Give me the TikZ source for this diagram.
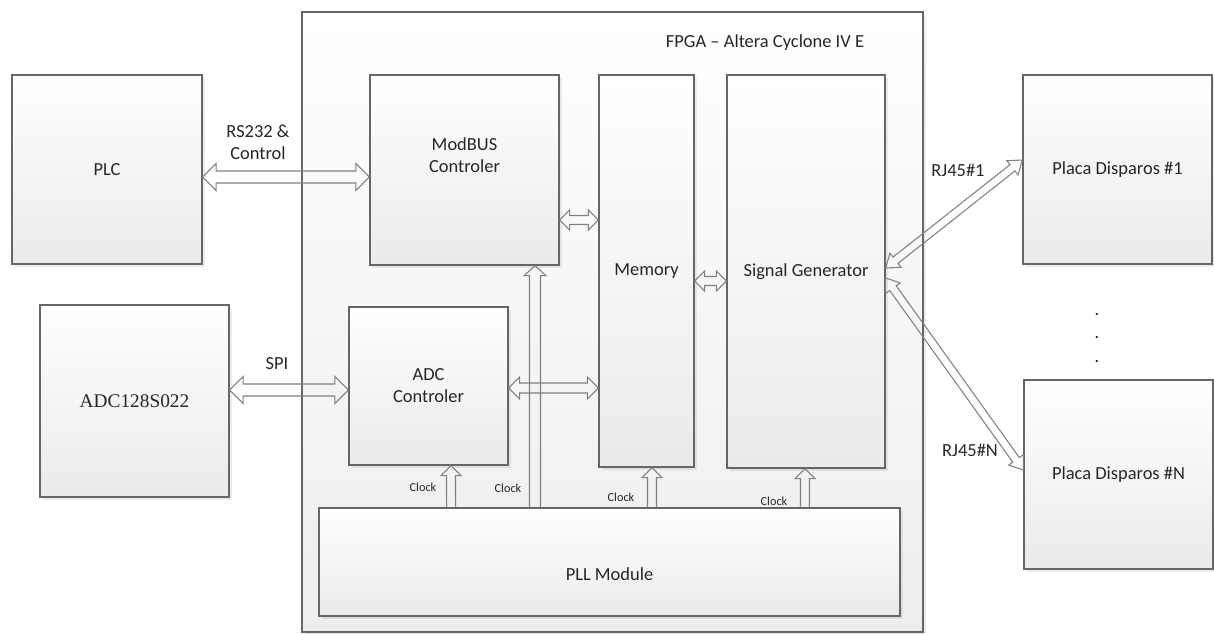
\documentclass[tikz,border=0pt]{standalone}
\usepackage{fontspec}
\setmainfont{Carlito}
\newfontfamily\adcfont{Liberation Serif}
\usetikzlibrary{calc,shadows}

\tikzset{
    blk/.style={draw=black!60, line width=0.8pt, top color=white, bottom color=black!8,
        drop shadow={opacity=0.15, shadow xshift=0.06cm, shadow yshift=-0.06cm},
        inner sep=0pt, align=center, text=black!85, font=\fontsize{10.5}{12.6}\selectfont},
    lbl/.style={inner sep=0pt, align=center, text=black!85, font=\fontsize{10.5}{12.6}\selectfont},
    clk/.style={inner sep=0pt, text=black!85, font=\fontsize{7}{8}\selectfont},
    arrowline/.style={draw=black!50, line width=0.6pt, line join=miter}
}

\newcommand{\hollowdbl}[5]{%
    \coordinate (ha) at ($(#1)!#5!(#2)$);
    \coordinate (hb) at ($(#2)!#5!(#1)$);
    \draw[arrowline] (#1) -- ($(ha)!#4!90:(#2)$) -- ($(ha)!#3!90:(#2)$) -- ($(hb)!#3!-90:(#1)$) -- ($(hb)!#4!-90:(#1)$) -- (#2)
        -- ($(hb)!#4!90:(#1)$) -- ($(hb)!#3!90:(#1)$) -- ($(ha)!#3!-90:(#2)$) -- ($(ha)!#4!-90:(#2)$) -- cycle;}
\newcommand{\hollowone}[5]{%
    \coordinate (hb) at ($(#2)!#5!(#1)$);
    \draw[arrowline] ($(#1)!#3!90:(#2)$) -- ($(hb)!#3!-90:(#1)$) -- ($(hb)!#4!-90:(#1)$) -- (#2)
        -- ($(hb)!#4!90:(#1)$) -- ($(hb)!#3!90:(#1)$) -- ($(#1)!#3!-90:(#2)$);}

\begin{document}
\begin{tikzpicture}[x=0.02cm, y=-0.02cm]
            \useasboundingbox (0,0) rectangle (1214,633);
            \fill[white] (0,0) rectangle (1214,633);

            \node[blk, minimum width=12.42cm, minimum height=12.4cm, bottom color=black!7] (fpga) at (612.5,322) {};
            \node[lbl] (fpgalbl) at (765,43) {FPGA – Altera Cyclone IV E};

            \node[blk, minimum width=3.8cm, minimum height=3.78cm] (plc) at (107,169.5) {PLC};
            \node[blk, minimum width=3.78cm, minimum height=3.84cm, font=\adcfont\fontsize{11}{13}\selectfont] (adc) at (134.5,401) {ADC128S022};
            \node[blk, minimum width=3.78cm, minimum height=3.8cm] (modbus) at (464.5,170) {};
            \node[lbl] (modbuslbl) at (464.5,155) {ModBUS\\Controler};
            \node[blk, minimum width=3.18cm, minimum height=3.16cm] (adcctl) at (428.5,386) {ADC\\Controler};
            \node[blk, minimum width=1.9cm, minimum height=7.84cm] (mem) at (646.5,271) {Memory};
            \node[blk, minimum width=3.16cm, minimum height=7.86cm] (siggen) at (806,271.5) {Signal Generator};
            \node[blk, minimum width=11.62cm, minimum height=2.16cm] (pll) at (609.5,562) {};
            \node[lbl] (plllbl) at (609.5,574) {PLL Module};
            \node[blk, minimum width=3.78cm, minimum height=3.78cm] (placa1) at (1117.5,169.5) {Placa Disparos \#1};
            \node[blk, minimum width=3.78cm, minimum height=3.78cm] (placaN) at (1118.5,474.5) {Placa Disparos \#N};
            \node[lbl, font=\fontsize{10.5}{13.6}\selectfont] (dots) at (1097,338) {.\\.\\.};

            \coordinate (plcR) at ([yshift=-0.15cm]plc.east);
            \coordinate (modbusL) at ([yshift=-0.14cm]modbus.west);
            \coordinate (adcR) at ([yshift=0.22cm]adc.east);
            \coordinate (adcctlL) at ([yshift=-0.08cm]adcctl.west);
            \coordinate (modbusR) at ([yshift=-1.0cm]modbus.east);
            \coordinate (memL1) at ([yshift=1.02cm]mem.west);
            \coordinate (adcctlR) at ([yshift=-0.04cm]adcctl.east);
            \coordinate (memL2) at ([yshift=-2.34cm]mem.west);
            \coordinate (memR) at ([yshift=-0.2cm]mem.east);
            \coordinate (siggenL) at ([yshift=-0.19cm]siggen.west);
            \coordinate (siggenR1) at ([yshift=0.07cm]siggen.east);
            \coordinate (siggenR2) at ([yshift=-0.13cm]siggen.east);
            \coordinate (placa1L) at ([yshift=0.19cm]placa1.west);
            \coordinate (placaNL) at ([yshift=0.09cm]placaN.west);
            \coordinate (modbusB) at ([xshift=1.41cm]modbus.south);
            \coordinate (pllT0) at ([xshift=-1.49cm]pll.north);
            \coordinate (adcctlB) at ([xshift=0.45cm]adcctl.south);
            \coordinate (pllT1) at ([xshift=-3.17cm]pll.north);
            \coordinate (memB) at ([xshift=0.11cm]mem.south);
            \coordinate (pllT2) at ([xshift=0.85cm]pll.north);
            \coordinate (siggenB) at ([xshift=-0.02cm]siggen.south);
            \coordinate (pllT3) at ([xshift=3.91cm]pll.north);

            \hollowdbl{plcR}{modbusL}{0.12cm}{0.27cm}{0.27cm}
            \hollowdbl{adcR}{adcctlL}{0.12cm}{0.27cm}{0.27cm}
            \hollowdbl{modbusR}{memL1}{0.09cm}{0.2cm}{0.2cm}
            \hollowone{pllT0}{modbusB}{0.11cm}{0.22cm}{0.2cm}
            \hollowdbl{adcctlR}{memL2}{0.1cm}{0.22cm}{0.22cm}
            \hollowdbl{memR}{siggenL}{0.09cm}{0.2cm}{0.2cm}
            \hollowdbl{siggenR1}{placa1L}{0.08cm}{0.18cm}{0.25cm}
            \hollowdbl{siggenR2}{placaNL}{0.08cm}{0.18cm}{0.25cm}
            \hollowone{pllT1}{adcctlB}{0.09cm}{0.2cm}{0.2cm}
            \hollowone{pllT2}{memB}{0.09cm}{0.2cm}{0.2cm}
            \hollowone{pllT3}{siggenB}{0.09cm}{0.2cm}{0.2cm}

            \node[lbl] (rslbl) at (258,142) {RS232 \&\\Control};
            \node[lbl] (spilbl) at (277,364) {SPI};
            \node[lbl] (rj1lbl) at (958,170) {RJ45\#1};
            \node[lbl] (rjnlbl) at (970,450) {RJ45\#N};
            \node[clk] (clk1) at (423,487) {Clock};
            \node[clk] (clk2) at (508,488) {Clock};
            \node[clk] (clk3) at (621,497) {Clock};
            \node[clk] (clk4) at (774,501) {Clock};
        \end{tikzpicture}
\end{document}
